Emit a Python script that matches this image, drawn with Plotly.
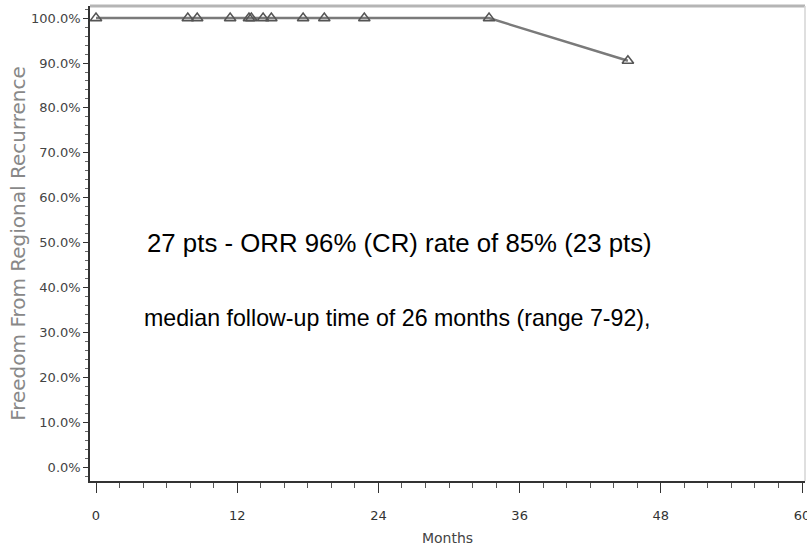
import plotly.graph_objects as go

# Data
months = [0, 7.8, 8.6, 11.4, 13.0, 13.2, 14.2, 14.9, 17.6, 19.4, 22.8, 33.4, 45.2]
freedom = [100, 100, 100, 100, 100, 100, 100, 100, 100, 100, 100, 100, 90.5]
x_ticks = [0, 12, 24, 36, 48, 60]
y_ticks = [0, 10, 20, 30, 40, 50, 60, 70, 80, 90, 100]
y_tick_labels = [f"{v:.1f}%" for v in y_ticks]
note_lines = [
    "27 pts - ORR 96% (CR) rate of 85% (23 pts)",
    "median follow-up time of 26 months (range 7-92),",
]

fig = go.Figure()
fig.add_trace(go.Scatter(
    x=months, y=freedom, mode="lines+markers",
    line=dict(color="#7a7a7a", width=2.5),
    marker=dict(symbol="triangle-up-open", size=10, color="#555555",
                line=dict(width=1.6, color="#555555")),
    showlegend=False, cliponaxis=False,
))

axis_font = dict(family="DejaVu Sans", size=13, color="#444444")

fig.update_layout(
    width=807, height=548,
    margin=dict(l=90, r=2, t=6, b=67),
    paper_bgcolor="white", plot_bgcolor="white",
    xaxis=dict(
        range=[-0.51, 60.25], tickvals=x_ticks, ticktext=[str(v) for v in x_ticks],
        automargin=False, ticklabeloverflow="allow",
        showgrid=False, zeroline=False, showline=True, linecolor="#333333", linewidth=1.5,
        ticks="outside", ticklen=10, tickwidth=1.2, tickcolor="#333333",
        minor=dict(dtick=2, ticks="outside", ticklen=5, tickwidth=1, tickcolor="#555555", showgrid=False),
        tickfont=dict(family="DejaVu Sans", size=13, color="#333333"),
        ticklabelstandoff=12,
        title=dict(text="Months", font=dict(family="DejaVu Sans", size=14, color="#444444"), standoff=11),
    ),
    yaxis=dict(
        range=[-3.1, 102.7], tickvals=y_ticks, ticktext=y_tick_labels,
        automargin=False,
        showgrid=False, zeroline=False, showline=True, linecolor="#333333", linewidth=1.5,
        ticks="outside", ticklen=5, tickwidth=1.2, tickcolor="#333333",
        minor=dict(dtick=2, ticks="outside", ticklen=3, tickwidth=1, tickcolor="#666666", showgrid=False),
        tickfont=axis_font,
        title=dict(text="Freedom From Regional Recurrence",
                   font=dict(family="DejaVu Sans", size=20, color="#888888"), standoff=0),
    ),
    shapes=[
        dict(type="line", xref="paper", yref="paper", x0=0, x1=1, y0=1, y1=1,
             line=dict(color="#b5b5b5", width=3)),
        dict(type="line", xref="paper", yref="paper", x0=1, x1=1, y0=0, y1=1,
             line=dict(color="#d5d5d5", width=1.5)),
    ],
    annotations=[
        dict(text=note_lines[0], x=4.2, y=50, xref="x", yref="y", xanchor="left", yanchor="middle",
             showarrow=False, font=dict(family="Liberation Sans", size=25.8, color="black")),
        dict(text=note_lines[1], x=3.95, y=33.2, xref="x", yref="y", xanchor="left", yanchor="middle",
             showarrow=False, font=dict(family="Liberation Sans", size=23.2, color="black")),
    ],
)

fig.write_html("out.html", config={"displayModeBar": False},
               post_script="document.body.style.margin='0';document.body.style.overflow='hidden';")
